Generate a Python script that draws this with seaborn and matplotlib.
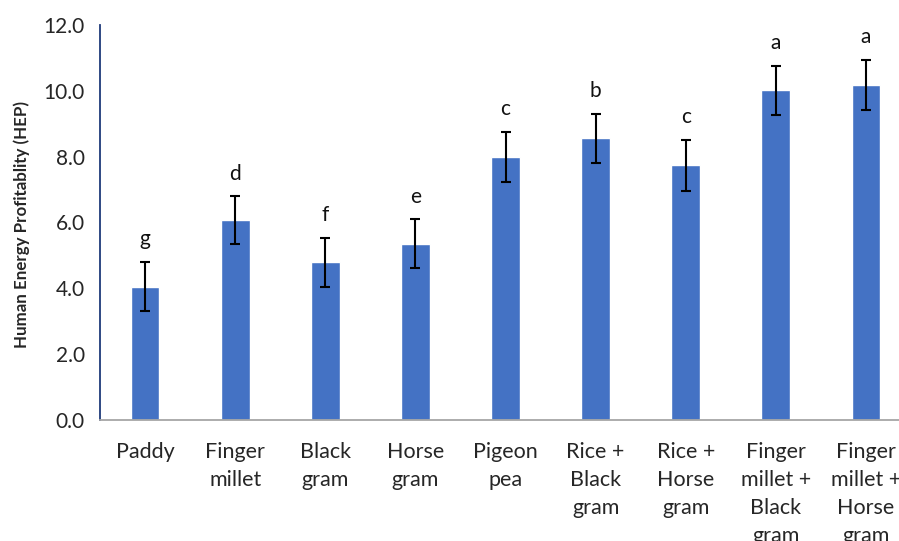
import matplotlib
matplotlib.use("Agg")
import matplotlib.pyplot as plt
import seaborn as sns
import numpy as np

# data
crops = ["Paddy", "Finger\nmillet", "Black\ngram", "Horse\ngram", "Pigeon\npea",
         "Rice +\nBlack\ngram", "Rice +\nHorse\ngram",
         "Finger\nmillet +\nBlack\ngram", "Finger\nmillet +\nHorse\ngram"]
hep = [4.05, 6.07, 4.79, 5.36, 8.00, 8.56, 7.74, 10.02, 10.18]
err = [0.75, 0.73, 0.75, 0.74, 0.76, 0.74, 0.77, 0.74, 0.76]
letters = ["g", "d", "f", "e", "c", "b", "c", "a", "a"]

sns.set_style("white")
plt.rcParams["font.family"] = ["Lato", "DejaVu Sans"]

fig = plt.figure(figsize=(8.99, 5.41), dpi=100)
ax = fig.add_axes([100 / 899, 1 - 420 / 541, 811 / 899, 395 / 541])

sns.barplot(x=crops, y=hep, color="#4472C4", width=0.32, saturation=1, ax=ax)
pos = np.arange(len(crops))
ax.errorbar(pos, hep, yerr=err, fmt="none", ecolor="black", elinewidth=1.5,
            capsize=3.6, capthick=1.5)

# significance letters
for x, v, e, s in zip(pos, hep, err, letters):
    ax.text(x, v + e + 0.38, s, ha="center", va="bottom", fontsize=15, color="#111111")

ax.set_ylim(0, 12)
ax.set_xlim(-0.5, len(crops) - 0.5)
ax.set_yticks(np.arange(0, 12.1, 2))
ax.set_yticklabels([f"{t:.1f}" for t in np.arange(0, 12.1, 2)], fontsize=15)
ax.set_ylabel("")
ax.set_xlabel("")
# y label placed centred on the axis height
fig.text(22 / 899, 1 - 224 / 541, "Human Energy Profitablity (HEP)", rotation=90,
         ha="center", va="center", fontsize=12.2, fontweight="bold")

# x axis: ticks between categories
ax.set_xticks(pos)
ax.set_xticklabels(crops, fontsize=15.5, linespacing=1.5, va="top")
ax.set_xticks(np.arange(-0.5, len(crops), 1), minor=True)
ax.tick_params(axis="x", which="major", length=0, pad=16)
ax.tick_params(axis="x", which="minor", length=6, width=1.2, color="#A6A6A6", direction="out")
ax.tick_params(axis="y", length=5, width=1.2, color="#1F3A7A", direction="out", pad=6)

for side in ["top", "right"]:
    ax.spines[side].set_visible(False)
ax.spines["left"].set_color("#1F3A7A")
ax.spines["left"].set_linewidth(1.3)
ax.spines["bottom"].set_color("#A6A6A6")
ax.spines["bottom"].set_linewidth(1.3)

fig.savefig("out.png", dpi=100)
